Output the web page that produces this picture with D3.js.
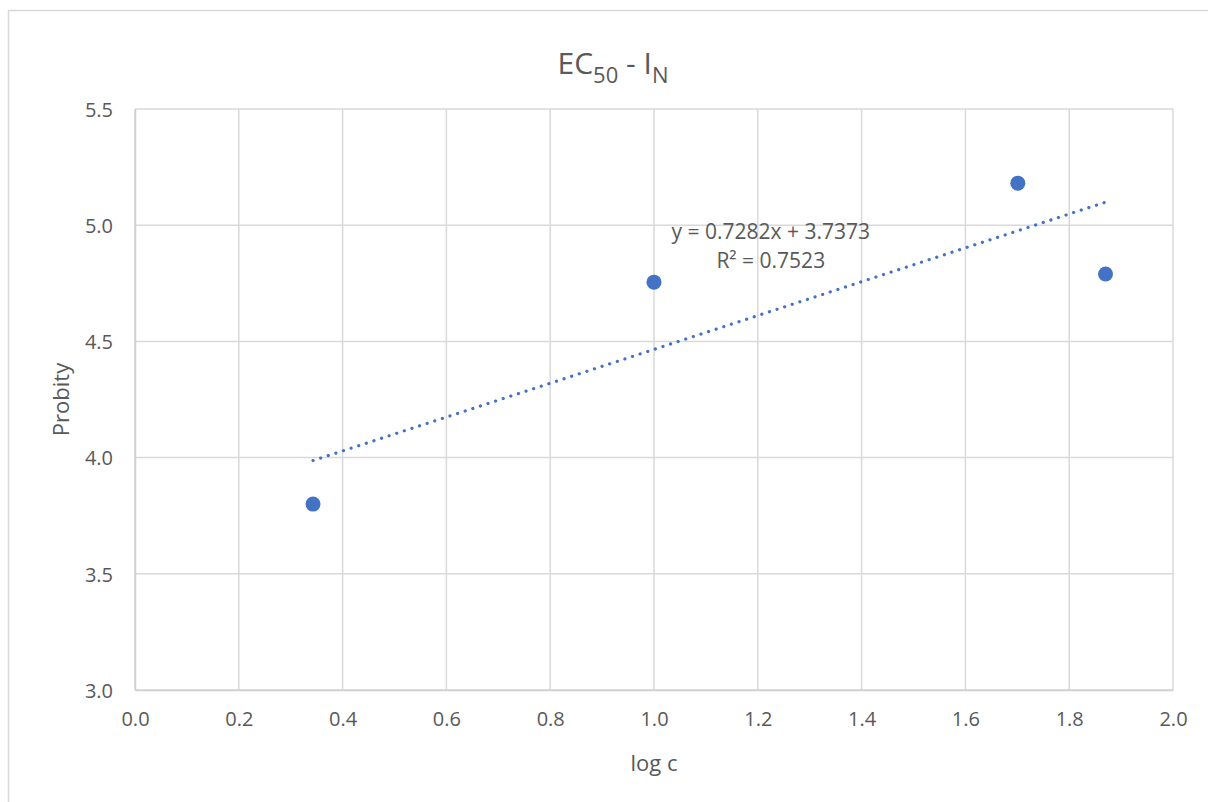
<!DOCTYPE html>
<html>
<head>
<meta charset="utf-8">
<script src="https://cdn.jsdelivr.net/npm/d3@7"></script>
<style>
  body { margin: 0; background: #fff; }
  text { font-family: "Open Sans", "Liberation Sans", sans-serif; fill: #595959; }
</style>
</head>
<body>
<div id="chart"></div>
<script>
// data
var logC = [0.343, 1.0, 1.701, 1.870];
var probity = [3.80, 4.755, 5.181, 4.790];
var xTicks = [0, 0.2, 0.4, 0.6, 0.8, 1.0, 1.2, 1.4, 1.6, 1.8, 2.0];
var yTicks = [3.0, 3.5, 4.0, 4.5, 5.0, 5.5];
var slope = 0.7282, intercept = 3.7373, r2 = 0.7523;

var svgWidth = 1208, svgHeight = 802;
var margin = { top: 109, right: 35, bottom: 112, left: 135 };
var width = svgWidth - margin.left - margin.right;
var height = svgHeight - margin.top - margin.bottom;

var svg = d3.select("#chart").append("svg")
  .attr("width", svgWidth)
  .attr("height", svgHeight);

// outer chart border (only top/left visible)
svg.append("rect")
  .attr("x", 8.5).attr("y", 10.5)
  .attr("width", svgWidth + 20).attr("height", svgHeight + 20)
  .attr("fill", "none").attr("stroke", "#d9d9d9").attr("stroke-width", 1.5);

var g = svg.append("g").attr("transform", `translate(${margin.left},${margin.top})`);

var x = d3.scaleLinear().domain([0, 2]).range([0, width]);
var y = d3.scaleLinear().domain([3, 5.5]).range([height, 0]);

// gridlines
g.selectAll(".vgrid").data(xTicks).enter().append("line")
  .attr("x1", d => x(d)).attr("x2", d => x(d))
  .attr("y1", 0).attr("y2", height)
  .attr("stroke", "#d9d9d9").attr("stroke-width", 1.5);
g.selectAll(".hgrid").data(yTicks).enter().append("line")
  .attr("y1", d => y(d)).attr("y2", d => y(d))
  .attr("x1", 0).attr("x2", width)
  .attr("stroke", "#d9d9d9").attr("stroke-width", 1.5);

// axes
var bottomAxis = d3.axisBottom(x).tickValues(xTicks).tickFormat(d3.format(".1f")).tickSize(0).tickPadding(22);
var leftAxis = d3.axisLeft(y).tickValues(yTicks).tickFormat(d3.format(".1f")).tickSize(0).tickPadding(22);

var xa = g.append("g").attr("transform", `translate(0,${height})`).call(bottomAxis);
var ya = g.append("g").call(leftAxis);
[xa, ya].forEach(function(a) {
  a.select(".domain").attr("stroke", "#d0d0d0").attr("stroke-width", 1.5);
  a.selectAll("text").style("font-size", "20px").attr("fill", "#595959");
});
ya.selectAll("text").attr("dy", "0.36em");

// trendline (dotted)
var tx = [d3.min(logC), d3.max(logC)];
g.append("line")
  .attr("x1", x(tx[0])).attr("y1", y(intercept + slope * tx[0]))
  .attr("x2", x(tx[1])).attr("y2", y(intercept + slope * tx[1]))
  .attr("stroke", "#4472c4").attr("stroke-width", 3.2)
  .attr("stroke-linecap", "round")
  .attr("stroke-dasharray", "0.1 7.9");

// points
g.selectAll("circle").data(logC).enter().append("circle")
  .attr("cx", d => x(d))
  .attr("cy", (d, i) => y(probity[i]))
  .attr("r", 7.5)
  .attr("fill", "#4472c4");

// equation label
var eq = g.append("text").attr("text-anchor", "middle").style("font-size", "21px");
eq.append("tspan").attr("x", x(1.225)).attr("y", y(4.94)).text(`y = ${slope}x + ${intercept}`);
eq.append("tspan").attr("x", x(1.225)).attr("y", y(4.816)).text(`R² = ${r2}`);

// title
var title = svg.append("text").attr("x", 613).attr("y", 74)
  .attr("text-anchor", "middle").style("font-size", "30px");
title.append("tspan").text("EC");
title.append("tspan").attr("dy", 9).style("font-size", "22px").text("50");
title.append("tspan").attr("dy", -9).text(" - I");
title.append("tspan").attr("dy", 9).style("font-size", "22px").text("N");

// axis titles
svg.append("text")
  .attr("transform", `translate(69,${margin.top + height / 2}) rotate(-90)`)
  .attr("text-anchor", "middle").style("font-size", "22px")
  .text("Probity");
svg.append("text")
  .attr("x", margin.left + width / 2).attr("y", 771)
  .attr("text-anchor", "middle").style("font-size", "22px")
  .text("log c");
</script>
</body>
</html>
